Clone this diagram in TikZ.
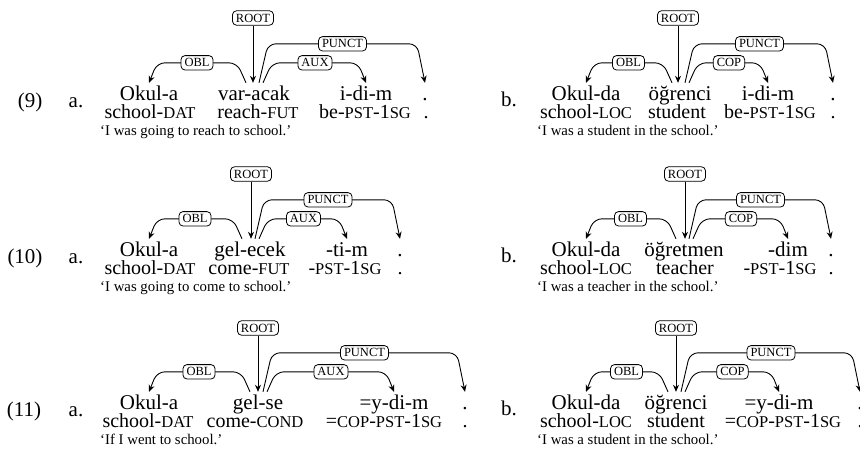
\documentclass[tikz,border=0pt]{standalone}
\usepackage{fontspec}
\setmainfont{Liberation Serif}
\usetikzlibrary{arrows.meta, calc}
\newcommand{\wdfont}{\fontsize{21}{21}\selectfont}
\newcommand{\glfont}{\fontsize{20}{20}\selectfont}
\newcommand{\trfont}{\fontsize{14.8}{14.8}\selectfont}
\newcommand{\lbfont}{\fontsize{12.5}{12.5}\selectfont}
\newcommand{\smc}[1]{{\fontsize{16.5}{16.5}\selectfont #1}}
\tikzset{
  wd/.style={font=\wdfont, inner sep=0pt, text height=17pt, text depth=0pt, anchor=base},
  gl/.style={font=\glfont, inner sep=0pt, anchor=base},
  tr/.style={font=\trfont, inner sep=0pt, anchor=base west},
  exn/.style={font=\wdfont, inner sep=0pt, anchor=base},
  lab/.style={draw, rounded corners=4pt, fill=white, font=\lbfont, inner xsep=3.5pt, inner ysep=3pt, line width=0.8pt},
  dep/.style={draw, line width=0.9pt, rounded corners=8pt, -{Stealth[length=7pt,width=6pt]}}
}
% arc from head to a dependent on its right / left
\newcommand{\depr}[5]{\draw[dep] ($(#1.north)+(#2,0)$) -- ++(9,-#4) -- node[lab] {#5} ($(#3.north)+(-8,-#4)$) -- (#3.north);}
\newcommand{\depl}[5]{\draw[dep] ($(#1.north)+(#2,0)$) -- ++(-9,-#4) -- node[lab] {#5} ($(#3.north)+(8,-#4)$) -- (#3.north);}
\begin{document}
\begin{tikzpicture}[x=1pt, y=-1pt]
	\useasboundingbox (0,0) rectangle (860,463);
	% (9a)
	\node[exn] (n9) at (30,107) {(9)};
	\node[exn] (l9a) at (76,107) {a.};
	\node[wd] (w9a1) at (149,100) {Okul-a};
	\node[wd] (w9a2) at (254,100) {var-acak};
	\node[wd] (w9a3) at (366,100) {i-di-m};
	\node[wd] (w9a4) at (425,100) {.};
	\node[gl] (g9a1) at (150,118) {school-\smc{DAT}};
	\node[gl] (g9a2) at (258,118) {reach-\smc{FUT}};
	\node[gl] (g9a3) at (365,118) {be-\smc{PST}-1\smc{SG}};
	\node[gl] (g9a4) at (426,118) {.};
	\node[tr] (t9a) at (100,135) {`I was going to reach to school.'};
	\node[lab] (r9a) at (253,18) {ROOT};
	\draw[dep] (r9a) -- (r9a |- w9a2.north);
	\depl{w9a2}{-8}{w9a1}{20}{OBL}
	\depr{w9a2}{5}{w9a4}{39}{PUNCT}
	\depr{w9a2}{9}{w9a3}{20}{AUX}
	% (9b)
	\node[exn] (l9b) at (509,106) {b.};
	\node[wd] (w9b1) at (586,100) {Okul-da};
	\node[wd] (w9b2) at (680,100) {öğrenci};
	\node[wd] (w9b3) at (768,100) {i-di-m};
	\node[wd] (w9b4) at (833,100) {.};
	\node[gl] (g9b1) at (586,118) {school-\smc{LOC}};
	\node[gl] (g9b2) at (677,118) {student};
	\node[gl] (g9b3) at (770,118) {be-\smc{PST}-1\smc{SG}};
	\node[gl] (g9b4) at (833,118) {.};
	\node[tr] (t9b) at (537,135) {`I was a student in the school.'};
	\node[lab] (r9b) at (678,18) {ROOT};
	\draw[dep] (r9b) -- (r9b |- w9b2.north);
	\depl{w9b2}{-8}{w9b1}{20}{OBL}
	\depr{w9b2}{5}{w9b4}{39}{PUNCT}
	\depr{w9b2}{9}{w9b3}{20}{COP}
	% (10a)
	\node[exn] (n10) at (25,263) {(10)};
	\node[exn] (l10a) at (76,263) {a.};
	\node[wd] (w10a1) at (149,256) {Okul-a};
	\node[wd] (w10a2) at (250,256) {gel-ecek};
	\node[wd] (w10a3) at (347,256) {-ti-m};
	\node[wd] (w10a4) at (400,256) {.};
	\node[gl] (g10a1) at (150,274) {school-\smc{DAT}};
	\node[gl] (g10a2) at (249,274) {come-\smc{FUT}};
	\node[gl] (g10a3) at (345,274) {-\smc{PST}-1\smc{SG}};
	\node[gl] (g10a4) at (400,274) {.};
	\node[tr] (t10a) at (100,291) {`I was going to come to school.'};
	\node[lab] (r10a) at (251,174) {ROOT};
	\draw[dep] (r10a) -- (r10a |- w10a2.north);
	\depl{w10a2}{-8}{w10a1}{20}{OBL}
	\depr{w10a2}{5}{w10a4}{39}{PUNCT}
	\depr{w10a2}{9}{w10a3}{20}{AUX}
	% (10b)
	\node[exn] (l10b) at (509,262) {b.};
	\node[wd] (w10b1) at (586,256) {Okul-da};
	\node[wd] (w10b2) at (684,256) {öğretmen};
	\node[wd] (w10b3) at (788,256) {-dim};
	\node[wd] (w10b4) at (831,256) {.};
	\node[gl] (g10b1) at (586,274) {school-\smc{LOC}};
	\node[gl] (g10b2) at (685,274) {teacher};
	\node[gl] (g10b3) at (780,274) {-\smc{PST}-1\smc{SG}};
	\node[gl] (g10b4) at (831,274) {.};
	\node[tr] (t10b) at (537,291) {`I was a teacher in the school.'};
	\node[lab] (r10b) at (685,174) {ROOT};
	\draw[dep] (r10b) -- (r10b |- w10b2.north);
	\depl{w10b2}{-8}{w10b1}{20}{OBL}
	\depr{w10b2}{5}{w10b4}{39}{PUNCT}
	\depr{w10b2}{9}{w10b3}{20}{COP}
	% (11a)
	\node[exn] (n11) at (24,416) {(11)};
	\node[exn] (l11a) at (76,416) {a.};
	\node[wd] (w11a1) at (149,409) {Okul-a};
	\node[wd] (w11a2) at (258,409) {gel-se};
	\node[wd] (w11a3) at (394,409) {=y-di-m};
	\node[wd] (w11a4) at (465,409) {.};
	\node[gl] (g11a1) at (148,427) {school-\smc{DAT}};
	\node[gl] (g11a2) at (255,427) {come-\smc{COND}};
	\node[gl] (g11a3) at (384,427) {=\smc{COP}-\smc{PST}-1\smc{SG}};
	\node[gl] (g11a4) at (465,427) {.};
	\node[tr] (t11a) at (100,444) {`If I went to school.'};
	\node[lab] (r11a) at (258,328) {ROOT};
	\draw[dep] (r11a) -- (r11a |- w11a2.north);
	\depl{w11a2}{-8}{w11a1}{20}{OBL}
	\depr{w11a2}{5}{w11a4}{39}{PUNCT}
	\depr{w11a2}{9}{w11a3}{20}{AUX}
	% (11b)
	\node[exn] (l11b) at (509,415) {b.};
	\node[wd] (w11b1) at (586,409) {Okul-da};
	\node[wd] (w11b2) at (676,409) {öğrenci};
	\node[wd] (w11b3) at (779,409) {=y-di-m};
	\node[wd] (w11b4) at (860,409) {.};
	\node[gl] (g11b1) at (586,427) {school-\smc{LOC}};
	\node[gl] (g11b2) at (676,427) {student};
	\node[gl] (g11b3) at (783,427) {=\smc{COP}-\smc{PST}-1\smc{SG}};
	\node[gl] (g11b4) at (860,427) {.};
	\node[tr] (t11b) at (537,444) {`I was a student in the school.'};
	\node[lab] (r11b) at (676,328) {ROOT};
	\draw[dep] (r11b) -- (r11b |- w11b2.north);
	\depl{w11b2}{-8}{w11b1}{20}{OBL}
	\depr{w11b2}{5}{w11b4}{39}{PUNCT}
	\depr{w11b2}{9}{w11b3}{20}{COP}
\end{tikzpicture}
\end{document}
